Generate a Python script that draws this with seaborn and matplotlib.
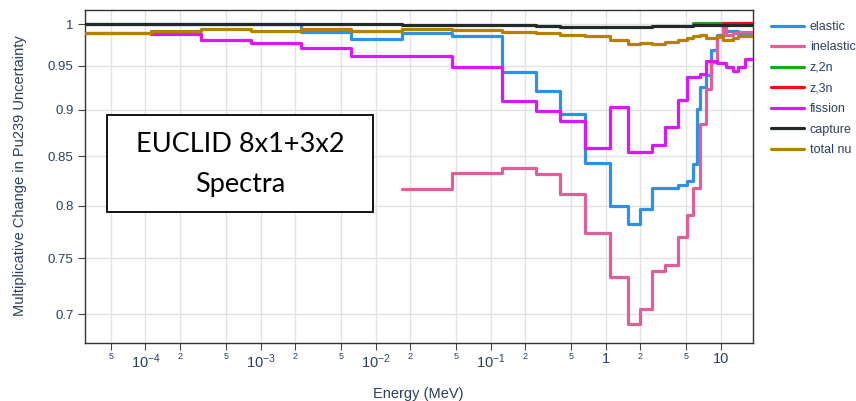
import numpy as np
import pandas as pd
import matplotlib
matplotlib.use("Agg")
import matplotlib.pyplot as plt
from matplotlib.lines import Line2D
from matplotlib.patches import Rectangle
import seaborn as sns

# ---------------- data ----------------
# energy group edges (MeV)
edges = [2.97e-5, 1.125e-4, 3.06e-4, 8.32e-4, 2.26e-3, 6.17e-3, 1.685e-2, 4.58e-2,
         0.1246, 0.246, 0.4025, 0.660, 1.094, 1.55, 1.98, 2.545, 3.27, 4.21, 5.11,
         5.76, 6.20, 6.58, 7.42, 8.29, 9.34, 10.43, 11.19, 12.74, 14.08, 16.19, 20.0]

nan = np.nan
elastic = [1.0, 1.0, 1.0, 1.0, 0.9904, 0.9816, 0.9895, 0.9856, 0.9430, 0.9212,
           0.8952, 0.8432, 0.7997, 0.7822, 0.7965, 0.8173, 0.8173, 0.8207, 0.8249,
           0.8422, 0.9015, 0.9257, 0.9395, 0.9688, 0.9868, 0.9868, 0.9917, 0.9917,
           0.9889, 0.9889]
inelastic = [nan, nan, nan, nan, nan, nan, 0.8163, 0.8325, 0.8376, 0.8315,
             0.8116, 0.7733, 0.7332, 0.6914, 0.7044, 0.7379, 0.7437, 0.7695, 0.7908,
             0.8173, 0.8173, 0.8848, 0.9238, 0.9546, 0.9844, 0.9990, 0.9868, 0.9892,
             0.9904, 0.9904]
z2n = [nan] * 19 + [1.0016, 1.0016, 1.0016, 1.0016, 1.0016, 1.0016, nan, nan, nan, nan, nan]
z3n = [nan] * 25 + [1.0016, 1.0016, 1.0016, 1.0016, 1.0016]
fission = [0.9892, 0.9886, 0.9804, 0.9775, 0.9712, 0.9622, 0.9622, 0.9484, 0.9096,
           0.8989, 0.8877, 0.8592, 0.9036, 0.8543, 0.8543, 0.8619, 0.8811, 0.9106,
           0.9366, 0.9366, 0.9366, 0.9406, 0.9558, 0.9558, 0.9538, 0.9538, 0.9491,
           0.9445, 0.9491, 0.9578]
capture = [1.0, 1.0, 1.0, 1.0, 1.0, 1.0, 0.9994, 0.9994, 0.9985, 0.9975, 0.9970,
           0.9970, 0.9970, 0.9970, 0.9970, 0.9975, 0.9975, 0.9975, 0.9975, 0.9990,
           0.9990, 0.9990, 0.9990, 0.9990, 0.9990, 0.9990, 0.9990, 0.9990, 0.9990,
           0.9990]
total_nu = [0.9892, 0.9913, 0.9945, 0.9917, 0.9945, 0.9917, 0.9945, 0.9925, 0.9910,
            0.9896, 0.9872, 0.9856, 0.9804, 0.9756, 0.9772, 0.9756, 0.9784, 0.9804,
            0.9832, 0.9856, 0.9856, 0.9872, 0.9832, 0.9832, 0.9856, 0.9811, 0.9811,
            0.9835, 0.9856, 0.9856]

series_names = ["elastic", "inelastic", "z,2n", "z,3n", "fission", "capture", "total nu"]
series_vals = [elastic, inelastic, z2n, z3n, fission, capture, total_nu]
colors = ["#2E91E5", "#E15F99", "#1CA71C", "#FB0D0D", "#DA16FF", "#222A2A", "#B68100"]

xtick_vals = [5e-5, 1e-4, 2e-4, 5e-4, 1e-3, 2e-3, 5e-3, 1e-2, 2e-2, 5e-2, 1e-1, 2e-1,
              5e-1, 1, 2, 5, 10]
xtick_labels = ["5", "$10^{-4}$", "2", "5", "$10^{-3}$", "2", "5", "$10^{-2}$", "2", "5",
                "$10^{-1}$", "2", "5", "1", "2", "5", "10"]
ytick_vals = [0.7, 0.75, 0.8, 0.85, 0.9, 0.95, 1.0]
ytick_labels = ["0.7", "0.75", "0.8", "0.85", "0.9", "0.95", "1"]

# ---------------- build long table ----------------
rows = []
for name, vals in zip(series_names, series_vals):
    ys = list(vals) + [vals[-1]]
    for e, v in zip(edges, ys):
        if not np.isnan(v):
            rows.append((name, e, v))
df = pd.DataFrame(rows, columns=["reaction", "energy", "value"])
# z,2n ends before the last group: add its closing edge
df = pd.concat([df, pd.DataFrame([("z,2n", edges[25], z2n[24])], columns=df.columns)],
               ignore_index=True)
df = df.sort_values(["reaction", "energy"], kind="stable")

# ---------------- style ----------------
sns.set_style("white")
plt.rcParams["font.family"] = ["Liberation Sans", "DejaVu Sans"]
plt.rcParams["mathtext.fontset"] = "custom"
plt.rcParams["mathtext.rm"] = "Liberation Sans"
plt.rcParams["mathtext.it"] = "Liberation Sans:italic"
plt.rcParams["mathtext.bf"] = "Liberation Sans:bold"
txt_color = "#2a3f5f"

fig = plt.figure(figsize=(8.56, 4.01), dpi=100)
ax = fig.add_axes([0.099, 0.1454, 0.7803, 0.8309])

sns.lineplot(data=df, x="energy", y="value", hue="reaction", hue_order=series_names,
             palette=dict(zip(series_names, colors)), estimator=None, sort=False,
             drawstyle="steps-post", linewidth=2.3, legend=False, ax=ax, zorder=3)

ax.set_xscale("log")
ax.set_yscale("log")
ax.set_xlim(2.97e-5, 18.9)
ax.set_ylim(0.676, 1.0182)

ax.xaxis.set_major_locator(matplotlib.ticker.FixedLocator(xtick_vals))
ax.xaxis.set_minor_locator(matplotlib.ticker.NullLocator())
ax.set_xticklabels(xtick_labels)
ax.yaxis.set_major_locator(matplotlib.ticker.FixedLocator(ytick_vals))
ax.yaxis.set_minor_locator(matplotlib.ticker.NullLocator())
ax.set_yticklabels(ytick_labels)

for lab, t in zip(ax.get_xticklabels(), xtick_labels):
    if t in ("2", "5"):
        lab.set_fontsize(6.5)
    else:
        lab.set_fontsize(10.5)
    lab.set_color(txt_color)
for lab in ax.get_yticklabels():
    lab.set_fontsize(9.5)
    lab.set_color(txt_color)

ax.tick_params(axis="x", which="major", direction="out", length=5, width=0.8,
               color="#444444", pad=2, bottom=True)
ax.tick_params(axis="y", which="major", direction="out", length=5, width=0.8,
               color="#444444", pad=3, left=True)
ax.grid(True, which="major", color="#e2e2e2", linewidth=1.0, zorder=0)
for sp in ax.spines.values():
    sp.set_color("#333333")
    sp.set_linewidth(1.0)
    sp.set_visible(True)

ax.set_xlabel("Energy (MeV)", fontsize=10.5, color=txt_color)
ax.set_ylabel("Multiplicative Change in Pu239 Uncertainty", fontsize=10.5, color=txt_color)
ax.xaxis.set_label_coords(0.5, -0.132)
ax.yaxis.set_label_coords(-0.087, 0.5)

# legend
handles = [Line2D([0], [0], color=c, lw=2.3) for c in colors]
leg = fig.legend(handles, series_names, loc="upper left",
                 bbox_to_anchor=(766 / 856, 1 - 16 / 401), frameon=False,
                 fontsize=9, handlelength=2.6, labelspacing=0.68, handletextpad=0.5,
                 borderaxespad=0)
for t in leg.get_texts():
    t.set_color(txt_color)

# annotation box
x0, y0, x1, y1 = 107, 115, 373, 212
fig.patches.append(Rectangle((x0 / 856, 1 - y1 / 401), (x1 - x0) / 856, (y1 - y0) / 401,
                             transform=fig.transFigure, facecolor="white",
                             edgecolor="black", linewidth=1.3, zorder=5))
fig.text(240 / 856, 1 - 144 / 401, "EUCLID 8x1+3x2", ha="center", va="center",
         fontsize=19.5, family=["Lato", "DejaVu Sans"], color="black", zorder=6)
fig.text(240 / 856, 1 - 184 / 401, "Spectra", ha="center", va="center",
         fontsize=19.5, family=["Lato", "DejaVu Sans"], color="black", zorder=6)

fig.savefig("out.png", dpi=100, facecolor="white")
